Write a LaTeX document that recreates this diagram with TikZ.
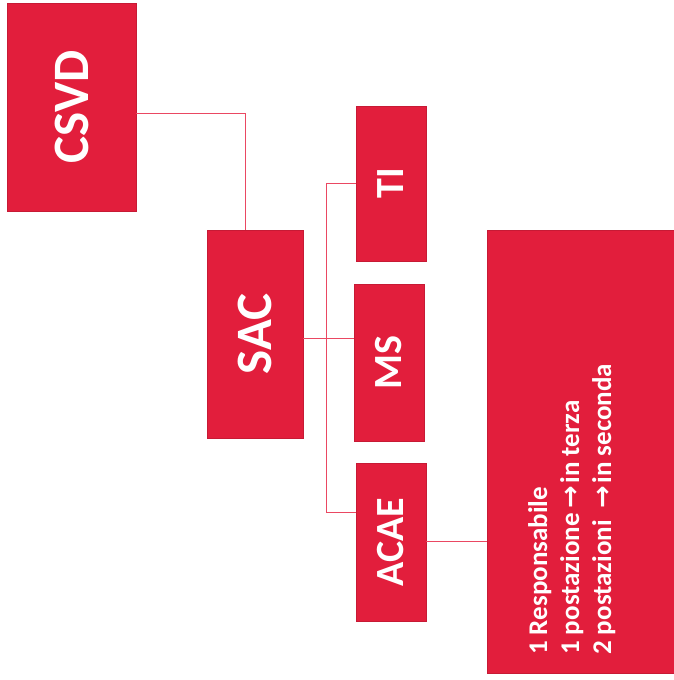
\documentclass[tikz,border=0pt]{standalone}
\usepackage{fontspec}
\setmainfont{Carlito}
\newfontfamily\arrowfont{DejaVu Sans}
\definecolor{boxred}{RGB}{226,30,60}
\definecolor{linered}{RGB}{234,72,98}
\begin{document}
\begin{tikzpicture}[x=1pt,y=-1pt,
  box/.style={fill=boxred, draw=boxred!88!black, line width=0.4pt, inner sep=0pt, text=white},
  bigbox/.style={box, font=\fontsize{51}{60}\selectfont\bfseries},
  smallbox/.style={box, font=\fontsize{40}{48}\selectfont\bfseries},
  conn/.style={draw=linered, line width=0.8pt},
  arr/.style={}]
\useasboundingbox (0,0) rectangle (674,680);
% boxes
\node[bigbox, minimum width=129pt, minimum height=208pt] (CSVD) at (71.5,107) {\rotatebox{90}{CSVD}};
\node[bigbox, minimum width=96pt, minimum height=208pt] (SAC) at (255,334) {\rotatebox{90}{SAC}};
\node[smallbox, minimum width=70pt, minimum height=155pt] (TI) at (391,183.5) {\rotatebox{90}{TI}};
\node[smallbox, minimum width=70pt, minimum height=157pt] (MS) at (389,362.5) {\rotatebox{90}{MS}};
\node[smallbox, minimum width=70pt, minimum height=158pt] (ACAE) at (391,542) {\rotatebox{90}{ACAE}};
\node[box, minimum width=188pt, minimum height=443pt] (info) at (581,451.5) {};
\node[rotate=90, anchor=base west, inner sep=0pt, text=white,
      font=\fontsize{27}{32}\selectfont\bfseries] (infotext) at (547,655)
  {\begin{tabular}[t]{@{}l@{\hspace{5pt}}l@{}}
   \multicolumn{2}{@{}l@{}}{1 Responsabile}\\
   1 postazione & {\arrowfont\bfseries\fontsize{27}{32}\selectfont →}\hspace{2pt}in terza\\
   2 postazioni & {\arrowfont\bfseries\fontsize{27}{32}\selectfont →}\hspace{2pt}in seconda
   \end{tabular}};
% connectors
\coordinate (j1) at (245,113);
\coordinate (j2) at (326,338);
\coordinate (bt) at (326,183);
\coordinate (bb) at (326,512);
\draw[conn] (CSVD.east |- j1) -| (SAC.north -| j1);
\draw[conn] (SAC.east |- j2) -- (MS.west |- j2);
\draw[conn] (TI.west |- bt) -- (bt) -- (bb) -- (ACAE.west |- bb);
\draw[conn] (ACAE.east |- 0,541) -- (info.west |- 0,541);
\end{tikzpicture}
\end{document}
